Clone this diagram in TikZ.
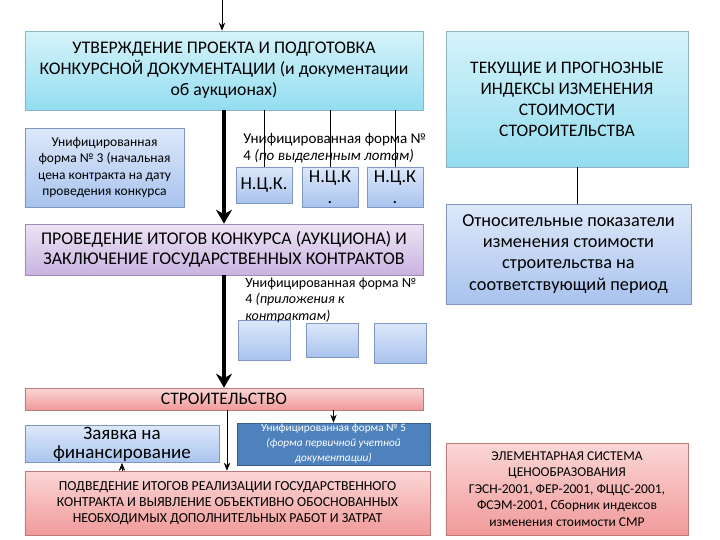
\documentclass[tikz,border=0pt]{standalone}
\usepackage{fontspec}
\setmainfont{Carlito}
\usetikzlibrary{arrows.meta}
\definecolor{cyantop}{HTML}{D6F3FA}
\definecolor{cyanbot}{HTML}{93DDF0}
\definecolor{cyanline}{HTML}{8DB3C5}
\definecolor{lavtop}{HTML}{EDE4F5}
\definecolor{lavbot}{HTML}{C8B3E0}
\definecolor{lavline}{HTML}{9C8DB5}
\definecolor{bluetop}{HTML}{DDE8FA}
\definecolor{bluebot}{HTML}{A9C3EE}
\definecolor{blueline}{HTML}{7F97C0}
\definecolor{pinktop}{HTML}{FBD6D6}
\definecolor{pinkbot}{HTML}{F19A9A}
\definecolor{pinkline}{HTML}{C07A7A}
\definecolor{darkblue}{HTML}{4F81BD}
\definecolor{darkline}{HTML}{385D8A}
\tikzset{
  cyanbox/.style={draw=cyanline, top color=cyantop, bottom color=cyanbot, align=center, inner sep=1pt},
  lavbox/.style={draw=lavline, top color=lavtop, bottom color=lavbot, align=center, inner sep=1pt},
  bluebox/.style={draw=blueline, top color=bluetop, bottom color=bluebot, align=center, inner sep=1pt},
  pinkbox/.style={draw=pinkline, top color=pinktop, bottom color=pinkbot, align=center, inner sep=1pt},
  thick arrow/.style={line width=1mm, -{Stealth[length=3.5mm, width=4mm]}},
  thin arrow/.style={line width=0.5pt, -{Stealth[length=2mm, width=1.6mm]}}
}
\begin{document}
\begin{tikzpicture}[x=0.25mm, y=-0.25mm]
  \useasboundingbox (0,0) rectangle (720,540);
  % left column
  \node[cyanbox, minimum width=99.5mm, minimum height=19.75mm,
    font=\fontsize{12.6}{15}\selectfont] (approve) at (224,70.5)
    {УТВЕРЖДЕНИЕ ПРОЕКТА И ПОДГОТОВКА\\
     КОНКУРСНОЙ ДОКУМЕНТАЦИИ (и документации\\
     об аукционах)};
  \node[bluebox, minimum width=39.75mm, minimum height=19.75mm,
    font=\fontsize{9.6}{11.8}\selectfont] (form3) at (104.5,167.5)
    {Унифицированная\\форма № 3 (начальная\\цена контракта на дату\\проведения конкурса};
  \node[anchor=north west, align=left, inner sep=0pt,
    font=\fontsize{10.7}{12}\selectfont] (formlots) at (243,133)
    {Унифицированная форма №\\4 \textit{(по выделенным лотам)}};
  \node[bluebox, minimum width=14mm, minimum height=9mm,
    font=\fontsize{13}{15}\selectfont] (nck1) at (264,185) {Н.Ц.К.};
  \node[bluebox, minimum width=14mm, minimum height=10mm,
    font=\fontsize{13}{15}\selectfont] (nck2) at (330,187) {Н.Ц.К\\.};
  \node[bluebox, minimum width=14mm, minimum height=10mm,
    font=\fontsize{13}{15}\selectfont] (nck3) at (395,187) {Н.Ц.К\\.};
  \node[lavbox, minimum width=99.5mm, minimum height=12.75mm,
    font=\fontsize{12.7}{14.5}\selectfont] (results) at (224,249.5)
    {ПРОВЕДЕНИЕ ИТОГОВ КОНКУРСА (АУКЦИОНА) И\\
     ЗАКЛЮЧЕНИЕ ГОСУДАРСТВЕННЫХ КОНТРАКТОВ};
  \node[bluebox, minimum width=13mm, minimum height=10mm] (app1) at (264,340) {};
  \node[bluebox, minimum width=13mm, minimum height=8.5mm] (app2) at (332,340) {};
  \node[bluebox, minimum width=13mm, minimum height=10mm] (app3) at (400,343) {};
  \node[anchor=north west, align=left, inner sep=0pt,
    font=\fontsize{10}{11.5}\selectfont] (formapp) at (245,278)
    {Унифицированная форма №\\4 \textit{(приложения к}\\\textit{контрактам)}};
  \node[pinkbox, minimum width=99.5mm, minimum height=5.5mm,
    font=\fontsize{12.5}{14}\selectfont] (build) at (224,399) {СТРОИТЕЛЬСТВО};
  \node[bluebox, minimum width=48.5mm, minimum height=8.5mm,
    font=\fontsize{13.5}{13.5}\selectfont] (request) at (122,444)
    {Заявка на\\финансирование};
  \node[draw=darkline, fill=darkblue, text=white, align=center, inner sep=1pt,
    minimum width=48.25mm, minimum height=9.5mm,
    font=\fontsize{8}{10.6}\selectfont] (form5) at (333.5,444)
    {Унифицированная форма № 5\\\textit{(форма первичной учетной}\\\textit{документации)}};
  \node[pinkbox, minimum width=101.25mm, minimum height=16mm,
    font=\fontsize{9.8}{11.4}\selectfont] (summary) at (227.5,503)
    {ПОДВЕДЕНИЕ ИТОГОВ РЕАЛИЗАЦИИ ГОСУДАРСТВЕННОГО\\
     КОНТРАКТА И ВЫЯВЛЕНИЕ ОБЪЕКТИВНО ОБОСНОВАННЫХ\\
     НЕОБХОДИМЫХ ДОПОЛНИТЕЛЬНЫХ РАБОТ И ЗАТРАТ};
  % right column
  \node[cyanbox, minimum width=60.5mm, minimum height=34mm,
    font=\fontsize{12.5}{15}\selectfont] (indexes) at (567,99)
    {ТЕКУЩИЕ И ПРОГНОЗНЫЕ\\ИНДЕКСЫ ИЗМЕНЕНИЯ\\СТОИМОСТИ\\СТОРОИТЕЛЬСТВА};
  \node[bluebox, minimum width=61.25mm, minimum height=25mm,
    font=\fontsize{13}{15}\selectfont] (relative) at (568.5,254)
    {Относительные показатели\\изменения стоимости\\строительства на\\соответствующий период};
  \node[pinkbox, minimum width=60.5mm, minimum height=23mm,
    font=\fontsize{9.6}{11.7}\selectfont] (elementary) at (567,489)
    {ЭЛЕМЕНТАРНАЯ СИСТЕМА\\ЦЕНООБРАЗОВАНИЯ\\ГЭСН-2001, ФЕР-2001, ФЦЦС-2001,\\
     ФСЭМ-2001, Сборник индексов\\изменения стоимости СМР};
  % connectors
  \coordinate (start) at (222,0);
  \draw[thin arrow] (start) -- (start |- approve.north);
  \draw[thick arrow] (approve.south) -- (results.north);
  \draw[thick arrow] (results.south) -- (build.north);
  \draw (nck1.north |- approve.south) -- (nck1.north);
  \draw (nck2.north |- approve.south) -- (nck2.north);
  \draw (nck3.north |- approve.south) -- (nck3.north);
  \draw[thin arrow] ([xshift=0.75mm]build.south) -- ([xshift=0.75mm]build.south |- summary.north);
  \draw[thin arrow] (form5.north |- build.south) -- (form5.north);
  \draw[thin arrow] (request.south |- summary.north) -- (request.south);
  \draw ([xshift=2.5mm]indexes.south) -- ([xshift=2.5mm]indexes.south |- relative.north);
\end{tikzpicture}
\end{document}
